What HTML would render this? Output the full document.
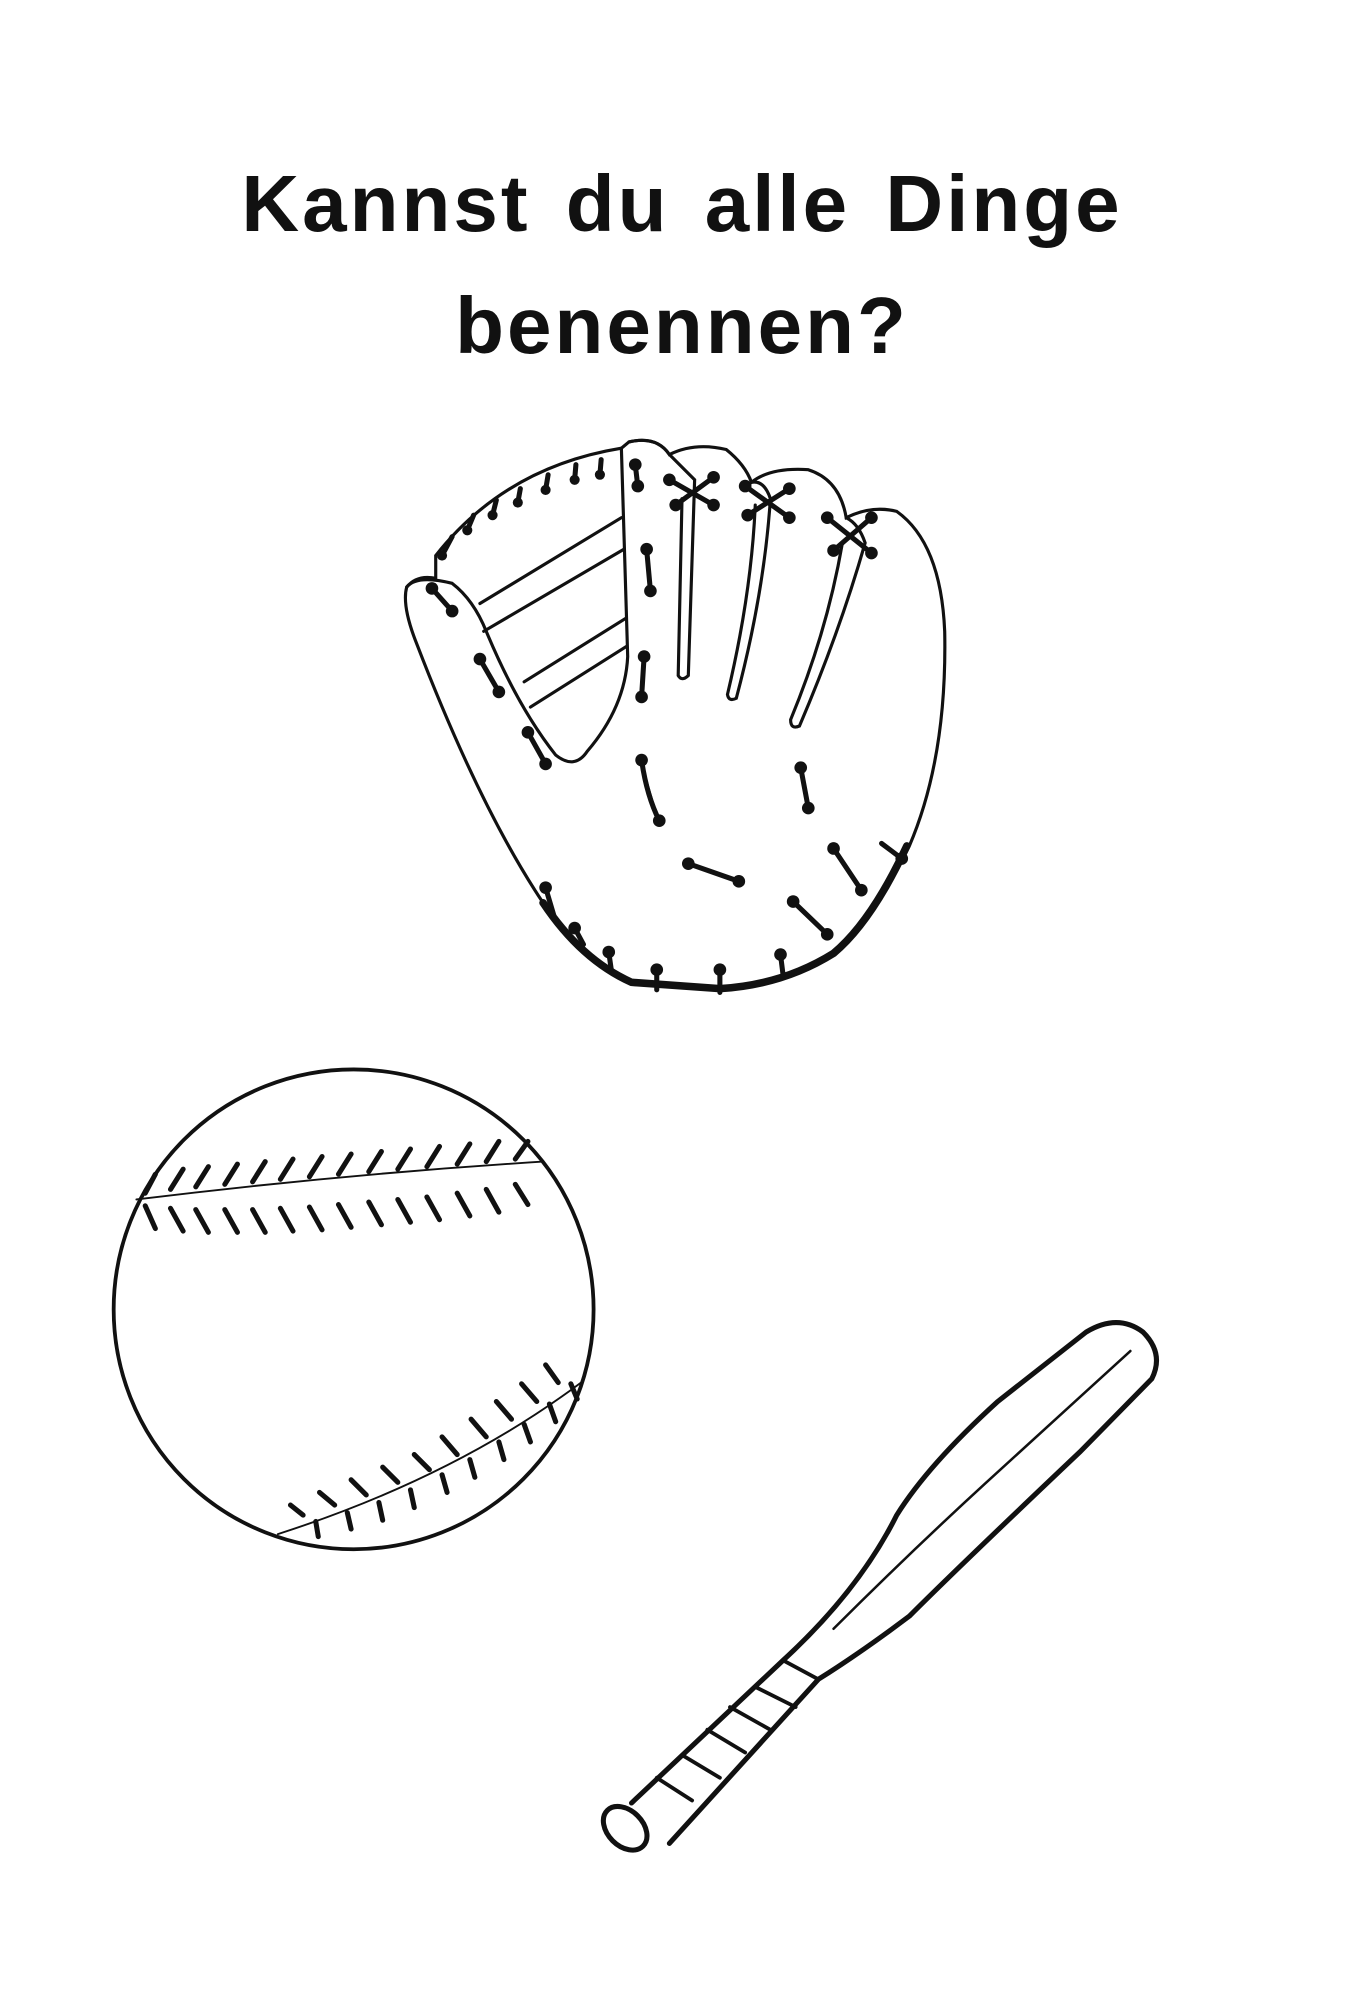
<!DOCTYPE html>
<html><head><meta charset="utf-8"><style>
html,body{margin:0;padding:0;background:#fff;}
body{width:1364px;height:2000px;position:relative;overflow:hidden;}
.t{position:absolute;left:0;width:1364px;text-align:center;font-family:"Liberation Sans",sans-serif;font-weight:bold;font-size:80px;color:#111;letter-spacing:3px;word-spacing:10px;}
svg{position:absolute;left:0;top:0;}
</style></head><body>
<div class="t" style="top:158px">Kannst du alle Dinge</div>
<div class="t" style="top:280px">benennen?</div>
<svg width="1364" height="2000" viewBox="0 0 1080 1584" preserveAspectRatio="none" fill="none" stroke="#111" stroke-width="2.5" stroke-linecap="round">
<path d="M345 440 Q400 370 492 355 L498 350 Q520 345 530 360 Q550 350 575 356 Q590 368 595 382 Q610 370 640 372 Q665 380 670 410 Q690 400 710 405 Q745 430 748 500 Q750 600 720 670 Q690 730 660 755 Q620 780 570 783 L500 778 Q460 760 430 715 Q380 640 330 510 Q318 480 322 465 Q330 455 345 458 Z"/>
<path d="M430 715 Q460 760 500 778 L570 783 Q620 780 660 755 Q690 730 718 670" stroke-width="6"/>
<path d="M322 465 Q330 455 358 462 Q375 475 385 500 Q410 560 440 598 Q455 610 465 595 Q495 560 497 520 L492 355"/>
<path d="M380 478 L492 410 M383 500 L494 435 M415 540 L495 490 M420 560 L496 512"/>
<path d="M498 350 Q520 345 530 360 L550 380 Q548 450 545 535 Q540 540 537 535 L540 395"/>
<path d="M595 382 Q605 380 610 395 Q605 470 583 553 Q577 556 576 550 Q595 470 598 400"/>
<path d="M670 410 Q680 415 685 430 Q665 500 633 575 Q626 578 626 570 Q655 500 667 430"/>
<g stroke-width="4" fill="#111">
<path d="M350 440 L358 425 M370 420 L375 408 M390 408 L393 396 M410 398 L412 387 M432 388 L434 376 M455 380 L456 368 M475 376 L476 364"/>
<path d="M342 466 L358 484 M380 522 L395 548 M418 580 L432 605 M503 368 L505 385 M512 435 L515 468 M510 520 L508 552 M508 602 Q512 630 522 650 M634 608 L640 640 M545 684 L585 698 M628 714 L655 740 M660 672 L682 705 M698 668 L714 680 M432 703 L440 730 M455 735 L462 748 M482 754 L484 768 M520 768 L520 784 M570 768 L570 786 M618 756 L620 772"/>
<path d="M530 380 L565 400 M535 400 L565 378 M590 385 L625 410 M592 408 L625 387 M655 410 L690 438 M660 436 L690 410"/>
</g>
<g fill="#111" stroke="none">
<circle cx="342" cy="466" r="5"/><circle cx="358" cy="484" r="5"/><circle cx="380" cy="522" r="5"/><circle cx="395" cy="548" r="5"/><circle cx="418" cy="580" r="5"/><circle cx="432" cy="605" r="5"/><circle cx="503" cy="368" r="5"/><circle cx="505" cy="385" r="5"/><circle cx="512" cy="435" r="5"/><circle cx="515" cy="468" r="5"/><circle cx="510" cy="520" r="5"/><circle cx="508" cy="552" r="5"/><circle cx="508" cy="602" r="5"/><circle cx="522" cy="650" r="5"/><circle cx="634" cy="608" r="5"/><circle cx="640" cy="640" r="5"/><circle cx="545" cy="684" r="5"/><circle cx="585" cy="698" r="5"/><circle cx="628" cy="714" r="5"/><circle cx="655" cy="740" r="5"/><circle cx="660" cy="672" r="5"/><circle cx="682" cy="705" r="5"/><circle cx="714" cy="680" r="5"/><circle cx="432" cy="703" r="5"/><circle cx="455" cy="735" r="5"/><circle cx="482" cy="754" r="5"/><circle cx="520" cy="768" r="5"/><circle cx="570" cy="768" r="5"/><circle cx="618" cy="756" r="5"/>
<circle cx="530" cy="380" r="5"/><circle cx="565" cy="400" r="5"/><circle cx="535" cy="400" r="5"/><circle cx="565" cy="378" r="5"/><circle cx="590" cy="385" r="5"/><circle cx="625" cy="410" r="5"/><circle cx="592" cy="408" r="5"/><circle cx="625" cy="387" r="5"/><circle cx="655" cy="410" r="5"/><circle cx="690" cy="438" r="5"/><circle cx="660" cy="436" r="5"/><circle cx="690" cy="410" r="5"/>
<circle cx="350" cy="440" r="4"/><circle cx="370" cy="420" r="4"/><circle cx="390" cy="408" r="4"/><circle cx="410" cy="398" r="4"/><circle cx="432" cy="388" r="4"/><circle cx="455" cy="380" r="4"/><circle cx="475" cy="376" r="4"/>
</g>
<circle cx="280" cy="1037" r="190" stroke-width="3"/>
<path d="M108 950 Q270 930 430 920" stroke-width="1.5"/>
<path d="M220 1215 Q360 1170 460 1095" stroke-width="1.5"/>
<g stroke-width="4">
<path d="M115 945 l8 -15 M135 942 l10 -16 M155 940 l10 -16 M178 938 l10 -16 M200 936 l10 -16 M222 934 l10 -16 M245 932 l10 -16 M268 930 l10 -16 M292 928 l10 -16 M315 926 l10 -16 M338 924 l10 -16 M362 922 l10 -16 M385 920 l10 -16 M408 918 l10 -14"/>
<path d="M115 955 l8 18 M135 957 l10 18 M155 958 l10 18 M178 958 l10 18 M200 958 l10 18 M222 957 l10 18 M245 956 l10 18 M268 954 l10 18 M292 952 l10 18 M315 950 l10 18 M338 948 l10 18 M362 945 l10 18 M385 942 l10 18 M408 938 l10 16"/>
<path d="M240 1200 l-10 -8 M265 1192 l-12 -10 M290 1184 l-12 -12 M315 1174 l-12 -12 M340 1164 l-12 -12 M362 1152 l-12 -14 M385 1138 l-12 -14 M405 1124 l-12 -14 M425 1110 l-12 -14 M442 1095 l-10 -14"/>
<path d="M250 1205 l2 12 M275 1198 l3 13 M300 1190 l3 14 M325 1180 l3 14 M350 1168 l4 14 M372 1156 l4 14 M395 1142 l4 14 M415 1128 l5 14 M435 1112 l5 14 M452 1096 l5 12"/>
</g>
<path d="M500 1428 L620 1315 Q680 1260 710 1200 Q735 1160 790 1110 L860 1055 Q885 1040 905 1055 Q922 1072 912 1092 L855 1150 Q760 1240 720 1280 Q680 1310 648 1330 L530 1460" stroke-width="4"/>
<path d="M660 1290 Q720 1230 780 1175 L895 1070" stroke-width="2"/>
<path d="M620 1315 L648 1330 M598 1336 L630 1352 M578 1352 L610 1370 M560 1370 L590 1388 M540 1390 L570 1408 M520 1408 L548 1426" stroke-width="3"/>
<ellipse cx="495" cy="1448" rx="14" ry="20" transform="rotate(-45 495 1448)" stroke-width="4"/>
</svg>
</body></html>
